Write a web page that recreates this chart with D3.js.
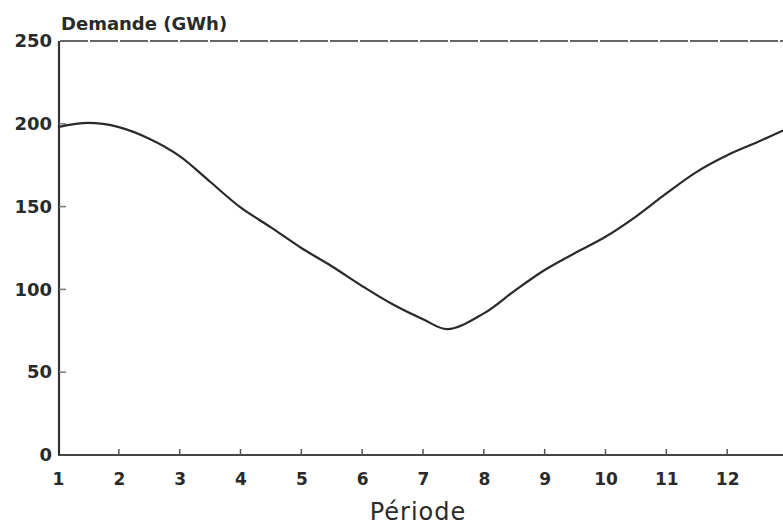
<!DOCTYPE html>
<html>
<head>
<meta charset="utf-8">
<script src="https://cdn.jsdelivr.net/npm/d3@7/dist/d3.min.js"></script>
<style>
  html, body { margin: 0; padding: 0; background: #fff; }
  svg { display: block; }
</style>
</head>
<body>
<svg id="chart" width="783" height="527"></svg>
<script>
// Data
const periods = [1, 1.5, 2, 2.5, 3, 3.5, 4, 4.5, 5, 5.5, 6, 6.5, 7, 7.4, 8, 8.5, 9, 9.5, 10, 10.5, 11, 11.5, 12, 12.5, 12.92];
const demande = [198, 200.5, 198, 191, 180.5, 165, 149.5, 137.5, 125, 114, 102, 91, 82, 76, 85.5, 99, 111.7, 122, 131.8, 144, 158, 171, 181, 189, 196];
const xTicks = [1, 2, 3, 4, 5, 6, 7, 8, 9, 10, 11, 12];
const yTicks = [0, 50, 100, 150, 200, 250];
const yTitle = "Demande (GWh)";
const xTitle = "Période";

const svg = d3.select("#chart");
const x = d3.scaleLinear().domain([1, 13]).range([58, 788]);
const y = d3.scaleLinear().domain([0, 250]).range([455, 41]);

const ink = "#2a2a2a";

// Top boundary line (grey)
svg.append("line")
  .attr("x1", 60).attr("x2", 783)
  .attr("y1", y(250)).attr("y2", y(250))
  .attr("stroke", "#666").attr("stroke-width", 2)
  .attr("stroke-dasharray", "28,2");

// X axis
const xAxis = d3.axisBottom(x).tickValues(xTicks).tickSize(0).tickPadding(18).tickFormat(d3.format("d"));
const gx = svg.append("g").attr("transform", `translate(0,${y(0)})`).call(xAxis);
gx.select(".domain").remove();
gx.selectAll("text")
  .attr("font-family", "DejaVu Sans").attr("font-weight", "bold")
  .attr("font-size", 17).attr("fill", ink);
svg.append("line")
  .attr("x1", 58).attr("x2", 783)
  .attr("y1", y(0)).attr("y2", y(0))
  .attr("stroke", "#444").attr("stroke-width", 2);
svg.append("g").selectAll("line").data(xTicks.slice(1)).join("line")
  .attr("x1", d => x(d)).attr("x2", d => x(d))
  .attr("y1", y(0)).attr("y2", y(0) - 6)
  .attr("stroke", "#555").attr("stroke-width", 1.5);

// Y axis
const yAxis = d3.axisLeft(y).tickValues(yTicks).tickSize(0).tickPadding(8).tickFormat(d3.format("d"));
const gy = svg.append("g").attr("transform", `translate(60,0)`).call(yAxis);
gy.select(".domain").remove();
gy.selectAll("text")
  .attr("font-family", "DejaVu Sans").attr("font-weight", "bold")
  .attr("font-size", 18).attr("fill", ink);
svg.append("line")
  .attr("x1", 59).attr("x2", 59)
  .attr("y1", y(250)).attr("y2", y(0))
  .attr("stroke", "#333").attr("stroke-width", 2.2);
svg.append("g").selectAll("line").data([50, 100, 150, 200]).join("line")
  .attr("x1", 59).attr("x2", 66)
  .attr("y1", d => y(d)).attr("y2", d => y(d))
  .attr("stroke", "#777").attr("stroke-width", 1.5);

// Curve
const line = d3.line().x((d, i) => x(periods[i])).y(d => y(d)).curve(d3.curveCatmullRom.alpha(0.5));
svg.append("path")
  .datum(demande)
  .attr("d", line)
  .attr("fill", "none")
  .attr("stroke", ink).attr("stroke-width", 2.2);

// Titles
svg.append("text")
  .attr("x", 61).attr("y", 30)
  .attr("font-family", "DejaVu Sans").attr("font-weight", "bold")
  .attr("font-size", 18).attr("fill", ink)
  .text(yTitle);
svg.append("text")
  .attr("x", 418).attr("y", 520)
  .attr("text-anchor", "middle")
  .attr("font-family", "DejaVu Sans")
  .attr("font-size", 24).attr("letter-spacing", 1).attr("fill", ink)
  .text(xTitle);
</script>
</body>
</html>
